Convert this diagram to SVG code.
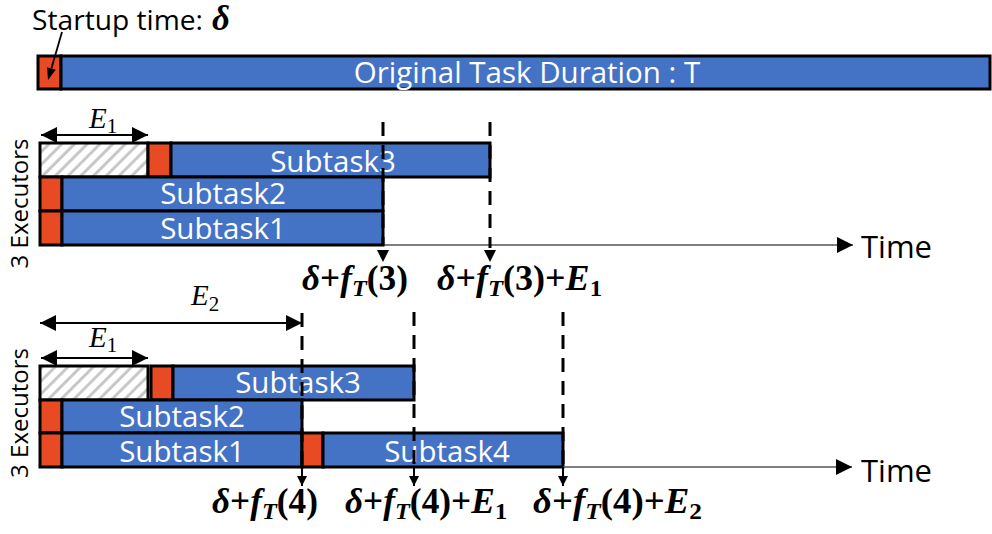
<svg xmlns="http://www.w3.org/2000/svg" width="992" height="534" viewBox="0 0 992 534">
<style>
.sans{font-family:"Open Sans","DejaVu Sans",sans-serif;}
.w{fill:#ffffff;font-size:29.5px;text-anchor:middle;}
.red{fill:#E84B24;stroke:#000;stroke-width:3;}
.blue{fill:#4472C4;stroke:#000;stroke-width:3;}
.hat{fill:url(#hatch);stroke:#000;stroke-width:3;}
.dash{stroke:#000;stroke-width:3;stroke-dasharray:14 9;fill:none;}
.axis{stroke:#555;stroke-width:1.6;fill:none;}
.dim{stroke:#000;stroke-width:2;fill:none;}
.m{font-family:"Liberation Serif","Times New Roman",serif;font-weight:bold;font-size:35px;fill:#000;}
.i{font-style:italic;}
.sb{font-size:24px;}
.e{font-family:"Liberation Serif","Times New Roman",serif;font-size:29px;fill:#000;}
.es{font-size:21px;font-style:normal;}
</style>
<defs>
<pattern id="hatch" width="9" height="9" patternUnits="userSpaceOnUse" patternTransform="rotate(45)">
<rect width="9" height="9" fill="#ffffff"/>
<line x1="1.5" y1="0" x2="1.5" y2="9" stroke="#c8c8c8" stroke-width="3"/>
</pattern>
<marker id="arr" viewBox="0 0 16 16" refX="16" refY="8" markerWidth="16" markerHeight="16" markerUnits="userSpaceOnUse" orient="auto-start-reverse">
<path d="M0,0 L16,8 L0,16 z" fill="#000"/>
</marker>
<marker id="arrS" viewBox="0 0 10 10" refX="10" refY="5" markerWidth="10" markerHeight="10" markerUnits="userSpaceOnUse" orient="auto">
<path d="M0,0 L10,5 L0,10 z" fill="#000"/>
</marker>
</defs>

<!-- Startup label -->
<g id="startup-label">
<text class="sans" x="32" y="30" font-size="27" fill="#000" textLength="171" lengthAdjust="spacingAndGlyphs">Startup time:</text>
<text class="m i" x="212" y="30" font-size="31">δ</text>
</g>

<!-- Original task -->
<g id="original-task">
<rect class="red" x="38" y="56" width="23" height="33"/>
<rect class="blue" x="61" y="56" width="929" height="33"/>
<text class="sans w" x="527" y="83" font-size="30.5">Original Task Duration : T</text>
</g>

<!-- Section 1 -->
<g id="s1-label"><text class="sans" font-size="24" fill="#000" text-anchor="middle" transform="translate(28,203.5) rotate(-90)">3 Executors</text></g>
<g id="s1-subtask3">
<rect class="hat" x="40" y="143" width="108" height="34"/>
<rect class="red" x="148" y="143" width="23" height="34"/>
<rect class="blue" x="171" y="143" width="319" height="34"/>
<text class="sans w" x="333" y="172">Subtask3</text>
</g>
<g id="s1-subtask2">
<rect class="red" x="40" y="177" width="22" height="34"/>
<rect class="blue" x="62" y="177" width="321" height="34"/>
<text class="sans w" x="223" y="204">Subtask2</text>
</g>
<g id="s1-subtask1">
<rect class="red" x="40" y="211" width="22" height="34"/>
<rect class="blue" x="62" y="211" width="321" height="34"/>
<text class="sans w" x="223" y="239">Subtask1</text>
</g>
<g id="s1-time"><text class="sans" x="861" y="258" font-size="31" fill="#000">Time</text></g>
<g id="s1-e1"><text class="e" x="89" y="128"><tspan class="i">E</tspan><tspan class="es" dx="0" dy="5">1</tspan></text></g>
<g id="s1-label-a"><text class="m" x="302" y="290" textLength="106" lengthAdjust="spacingAndGlyphs"><tspan class="i">δ</tspan>+<tspan class="i">f</tspan><tspan class="i sb" dy="6">T</tspan><tspan dy="-6">(3)</tspan></text></g>
<g id="s1-label-b"><text class="m" x="437" y="290" textLength="165" lengthAdjust="spacingAndGlyphs"><tspan class="i">δ</tspan>+<tspan class="i">f</tspan><tspan class="i sb" dy="6">T</tspan><tspan dy="-6">(3)+</tspan><tspan class="i">E</tspan><tspan class="sb" dy="6">1</tspan></text></g>

<!-- Section 2 -->
<g id="s2-label"><text class="sans" font-size="24" fill="#000" text-anchor="middle" transform="translate(28,413) rotate(-90)">3 Executors</text></g>
<g id="s2-subtask3">
<rect class="hat" x="40" y="366" width="108" height="34"/>
<rect class="red" x="151" y="366" width="22" height="34"/>
<rect class="blue" x="173" y="366" width="241" height="34"/>
<text class="sans w" x="298" y="393">Subtask3</text>
</g>
<g id="s2-subtask2">
<rect class="red" x="40" y="400" width="22" height="33"/>
<rect class="blue" x="62" y="400" width="240" height="33"/>
<text class="sans w" x="182" y="427">Subtask2</text>
</g>
<g id="s2-subtask1">
<rect class="red" x="40" y="433" width="22" height="34"/>
<rect class="blue" x="62" y="433" width="240" height="34"/>
<text class="sans w" x="182" y="462">Subtask1</text>
</g>
<g id="s2-subtask4">
<rect class="red" x="302" y="433" width="21" height="34"/>
<rect class="blue" x="323" y="433" width="240" height="34"/>
<text class="sans w" x="447" y="462">Subtask4</text>
</g>
<g id="s2-time"><text class="sans" x="861" y="482" font-size="31" fill="#000">Time</text></g>
<g id="s2-e2"><text class="e" x="191" y="305"><tspan class="i">E</tspan><tspan class="es" dx="0" dy="6">2</tspan></text></g>
<g id="s2-e1"><text class="e" x="89" y="347"><tspan class="i">E</tspan><tspan class="es" dx="0" dy="5">1</tspan></text></g>
<g id="s2-label-a"><text class="m" x="212" y="513" textLength="106" lengthAdjust="spacingAndGlyphs"><tspan class="i">δ</tspan>+<tspan class="i">f</tspan><tspan class="i sb" dy="6">T</tspan><tspan dy="-6">(4)</tspan></text></g>
<g id="s2-label-b"><text class="m" x="345" y="513" textLength="162" lengthAdjust="spacingAndGlyphs"><tspan class="i">δ</tspan>+<tspan class="i">f</tspan><tspan class="i sb" dy="6">T</tspan><tspan dy="-6">(4)+</tspan><tspan class="i">E</tspan><tspan class="sb" dy="6">1</tspan></text></g>
<g id="s2-label-c"><text class="m" x="533" y="513" textLength="169" lengthAdjust="spacingAndGlyphs"><tspan class="i">δ</tspan>+<tspan class="i">f</tspan><tspan class="i sb" dy="6">T</tspan><tspan dy="-6">(4)+</tspan><tspan class="i">E</tspan><tspan class="sb" dy="6">2</tspan></text></g>

<!-- Connectors -->
<g id="connectors">
<line x1="62" y1="32" x2="51.4" y2="68.5" stroke="#000" stroke-width="1.8"/>
<polygon points="48,80 55.7,69.8 47.1,67.2" fill="#000"/>
<line class="dim" x1="41" y1="135" x2="148" y2="135" marker-start="url(#arr)" marker-end="url(#arr)"/>
<line class="axis" x1="383" y1="245" x2="853" y2="245" marker-end="url(#arr)"/>
<line class="dash" x1="383" y1="122" x2="383" y2="246"/>
<line class="dash" x1="490" y1="122" x2="490" y2="248"/>
<polygon points="377,250 389,250 383,262" fill="#000"/>
<polygon points="484,250 496,250 490,262" fill="#000"/>
<line class="dim" x1="40" y1="323" x2="302" y2="323" marker-start="url(#arr)" marker-end="url(#arr)"/>
<line class="dim" x1="41" y1="358" x2="148" y2="358" marker-start="url(#arr)" marker-end="url(#arr)"/>
<line class="axis" x1="563" y1="467" x2="852" y2="467" marker-end="url(#arr)"/>
<line class="dash" x1="302" y1="313" x2="302" y2="467"/>
<line class="dash" x1="414" y1="312" x2="414" y2="467"/>
<line class="dash" x1="563" y1="312" x2="563" y2="467"/>
<line class="dim" x1="302" y1="467" x2="302" y2="486" marker-end="url(#arrS)"/>
<line class="dim" x1="414" y1="467" x2="414" y2="486" marker-end="url(#arrS)"/>
<line class="dim" x1="563" y1="467" x2="563" y2="486" marker-end="url(#arrS)"/>
</g>
</svg>
